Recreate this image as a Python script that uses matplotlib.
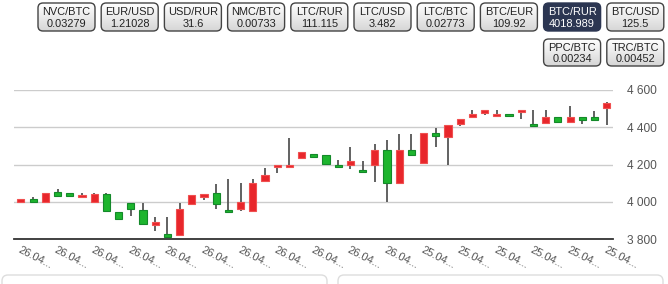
import matplotlib
matplotlib.use('Agg')
import matplotlib.pyplot as plt
from matplotlib.patches import FancyBboxPatch, Rectangle
from matplotlib.colors import LinearSegmentedColormap
import numpy as np

# candles, oldest first (the reference is drawn right-to-left)
opens  = [4532, 4437, 4437, 4453, 4426, 4457, 4405, 4494, 4459, 4473, 4494, 4473, 4446,
          4414, 4351, 4369, 4253, 4280, 4099, 4280, 4158, 4221, 4185, 4206, 4242, 4267,
          4199, 4199, 4145, 4102, 4000, 3945, 3988, 4042, 4038, 3963, 3814, 3895, 3880,
          3965, 3911, 3954, 4045, 4040, 4034, 4034, 4050, 4002, 4018]
highs  = [4537, 4489, 4457, 4516, 4457, 4494, 4494, 4494, 4473, 4494, 4494, 4494, 4446,
          4414, 4394, 4369, 4366, 4366, 4333, 4310, 4221, 4296, 4226, 4251, 4255, 4267,
          4344, 4199, 4183, 4122, 4102, 4122, 4097, 4042, 4038, 3997, 3920, 3920, 3997,
          3997, 3947, 4050, 4050, 4050, 4050, 4070, 4050, 4027, 4018]
lows   = [4414, 4437, 4419, 4426, 4426, 4421, 4405, 4446, 4453, 4459, 4464, 4453, 4405,
          4199, 4292, 4210, 4253, 4104, 4000, 4108, 4153, 4179, 4185, 4206, 4242, 4233,
          4185, 4153, 4110, 3954, 3954, 3945, 3964, 4008, 3988, 3825, 3814, 3845, 3880,
          3927, 3911, 3954, 4002, 4024, 4034, 4034, 4002, 4002, 4002]
closes = [4502, 4453, 4457, 4426, 4457, 4421, 4419, 4480, 4473, 4459, 4478, 4453, 4419,
          4346, 4369, 4210, 4280, 4104, 4280, 4199, 4172, 4199, 4199, 4251, 4255, 4233,
          4185, 4185, 4110, 3954, 3965, 3959, 4049, 4025, 3988, 3825, 3829, 3879, 3957,
          3992, 3947, 4045, 4002, 4024, 4050, 4054, 4002, 4018, 4002]

tick_every = 3
tick_labels = ['25.04...'] * 6 + ['26.04...'] * 11
y_ticks = [3800, 4000, 4200, 4400, 4600]

pairs  = ['NVC/BTC', 'EUR/USD', 'USD/RUR', 'NMC/BTC', 'LTC/RUR', 'LTC/USD', 'LTC/BTC',
          'BTC/EUR', 'BTC/RUR', 'BTC/USD', 'PPC/BTC', 'TRC/BTC']
prices = ['0.03279', '1.21028', '31.6', '0.00733', '111.115', '3.482', '0.02773',
          '109.92', '4018.989', '125.5', '0.00234', '0.00452']
selected = 'BTC/RUR'

RED = '#e8262b'
GREEN = '#1db52e'
W, H = 668, 284

plt.rcParams['font.family'] = ['Liberation Sans', 'DejaVu Sans']

fig = plt.figure(figsize=(W / 100, H / 100), dpi=100)

# ---- candlestick chart
ax = fig.add_axes([14 / W, 44.7 / H, 599 / W, 149.3 / H])
x = np.arange(len(opens))
for i in x:
    up = closes[i] >= opens[i]
    ax.vlines(i, lows[i], highs[i], color='#555555', lw=1.3, zorder=2)
    lo, hi = min(opens[i], closes[i]), max(opens[i], closes[i])
    ax.add_patch(Rectangle((i - 0.29, lo), 0.58, max(hi - lo, 10),
                           facecolor=GREEN if up else RED,
                           edgecolor='#14892a' if up else '#f05050',
                           lw=0.8, zorder=3))

ax.set_xlim(len(opens) - 0.43, -0.52)
ax.set_ylim(3800, 4600)
ax.set_yticks(y_ticks)
ax.set_yticklabels([f'{v // 1000} {v % 1000:03d}' for v in y_ticks])
ax.yaxis.tick_right()
ax.tick_params(axis='y', length=0, pad=10, labelsize=8.6, colors='#555555')
ax.set_xticks(x[::tick_every])
ax.set_xticklabels(tick_labels, rotation=-27, ha='left', va='top',
                   rotation_mode='anchor', fontsize=8, color='#555555')
ax.tick_params(axis='x', length=0, pad=4)
ax.grid(axis='y', color='#cccccc', lw=1)
ax.set_axisbelow(True)
for s in ['top', 'left', 'right']:
    ax.spines[s].set_visible(False)
ax.spines['bottom'].set_color('#333333')
ax.spines['bottom'].set_linewidth(1.3)

# ---- pair buttons and panels, in pixel coordinates
ov = fig.add_axes([0, 0, 1, 1], zorder=5)
ov.patch.set_alpha(0)
ov.axis('off')
grad_cmap = LinearSegmentedColormap.from_list('btn', ['#ffffff', '#d6d6d6'])
grad = np.linspace(0, 1, 50).reshape(-1, 1)

bw, pitch = 57, 63.2
for k, (pair, price) in enumerate(zip(pairs, prices)):
    if k < 10:
        bx, by, bh = 38 + k * pitch, 3, 28
    else:
        bx, by, bh = 38 + (k - 2) * pitch, 39, 27
    sel = pair == selected
    box = FancyBboxPatch((bx, by), bw, bh, boxstyle='round,pad=0,rounding_size=5',
                         facecolor='#2c3652' if sel else 'none',
                         edgecolor='#2c3652' if sel else '#444444', lw=1, zorder=3)
    ov.add_patch(box)
    if not sel:
        im = ov.imshow(grad, cmap=grad_cmap, extent=[bx, bx + bw, by + bh, by],
                       origin='upper', aspect='auto', zorder=2)
        im.set_clip_path(box)
    tc = 'white' if sel else '#222222'
    ov.text(bx + bw / 2, by + bh * 0.33, pair, ha='center', va='center',
            fontsize=7.9, color=tc, zorder=4)
    ov.text(bx + bw / 2, by + bh * 0.75, price, ha='center', va='center',
            fontsize=7.9, color=tc, zorder=4)

for px0, px1 in [(2, 327), (338, 663)]:
    ov.add_patch(FancyBboxPatch((px0, 275), px1 - px0, 30,
                                boxstyle='round,pad=0,rounding_size=6',
                                facecolor='white', edgecolor='#dddddd', lw=1))

ov.set_xlim(0, W)
ov.set_ylim(H, 0)

fig.savefig('out.png', dpi=100)
